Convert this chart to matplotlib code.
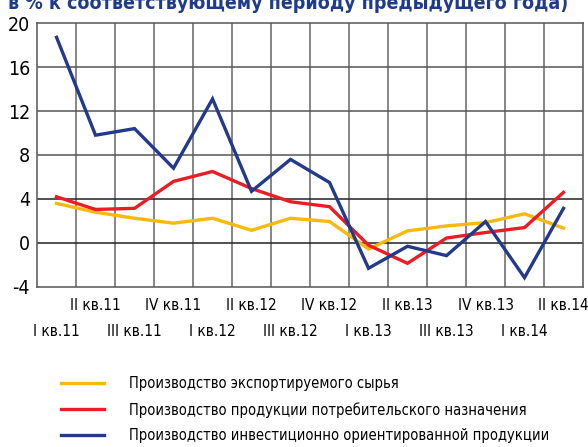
import matplotlib
matplotlib.use("Agg")
import matplotlib.pyplot as plt
from matplotlib.lines import Line2D

plt.rcParams['font.family'] = ['DejaVu Sans']
plt.rcParams['font.stretch'] = 'condensed'

quarters = ["I кв.11", "II кв.11", "III кв.11", "IV кв.11",
            "I кв.12", "II кв.12", "III кв.12", "IV кв.12",
            "I кв.13", "II кв.13", "III кв.13", "IV кв.13",
            "I кв.14", "II кв.14"]

export_raw = [3.6, 2.8, 2.25, 1.8, 2.25, 1.15, 2.25, 1.95, -0.55, 1.1, 1.55, 1.85, 2.65, 1.35]
consumer = [4.2, 3.05, 3.15, 5.6, 6.5, 4.95, 3.75, 3.3, -0.2, -1.85, 0.45, 0.95, 1.4, 4.6]
investment = [18.7, 9.8, 10.4, 6.8, 13.1, 4.7, 7.6, 5.5, -2.3, -0.3, -1.15, 1.95, -3.15, 3.15]

series_names = ["Производство экспортируемого сырья",
                "Производство продукции потребительского назначения",
                "Производство инвестиционно ориентированной продукции"]
colors = ["#f9b80e", "#ec1c24", "#233a8c"]

yticks = [-4, 0, 4, 8, 12, 16, 20]

fig = plt.figure(figsize=(5.88, 4.47), dpi=100)
ax = fig.add_axes([0.063, 0.358, 0.9285, 0.5905])

x = list(range(len(quarters)))
for vals, c in zip([export_raw, consumer, investment], colors):
    ax.plot(x, vals, color=c, lw=2.4, solid_joinstyle='miter', zorder=3)

ax.set_xlim(-0.5, len(quarters) - 0.5)
ax.set_ylim(-4, 20)

# grid
for v in [i + 0.5 for i in range(len(quarters) - 1)]:
    ax.axvline(v, color="#666666", lw=1.1, zorder=1)
for t in yticks[1:-1]:
    ax.axhline(t, color="#555555" if t > 4 else "#222222", lw=1.1, zorder=1)
for s in ax.spines.values():
    s.set_color("#555555")
    s.set_linewidth(1.1)

ax.set_yticks(yticks)
ax.set_yticklabels([str(t) for t in yticks], fontsize=14)
ax.tick_params(axis='y', length=0, pad=5)

# quarter labels in two staggered rows
ax.set_xticks(x[1::2])
ax.set_xticklabels(quarters[1::2], fontsize=11)
ax.set_xticks(x[0::2], minor=True)
ax.set_xticklabels(quarters[0::2], minor=True, fontsize=11)
ax.tick_params(axis='x', which='major', length=0, pad=8)
ax.tick_params(axis='x', which='minor', length=0, pad=27)

fig.text(0.49, 0.993, "в % к соответствующему периоду предыдущего года)",
         ha='center', va='center', fontsize=14, fontweight='bold',
         color="#1f3c8c")

# legend
handles = [Line2D([0], [0], color=c, lw=2.4) for c in colors]
fig.legend(handles, series_names, loc='upper left',
           bbox_to_anchor=(0.0935, 0.171), frameon=False, fontsize=10.5,
           handlelength=2.95, handletextpad=1.7, labelspacing=0.72,
           borderaxespad=0)

fig.savefig("out.png", dpi=100)
